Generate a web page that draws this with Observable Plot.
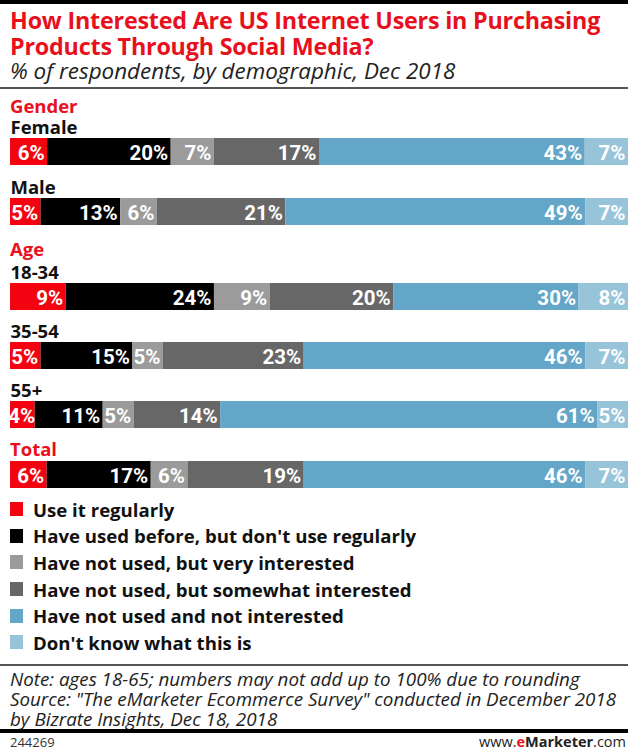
<!DOCTYPE html>
<html>
<head>
<meta charset="utf-8">
<script src="https://cdn.jsdelivr.net/npm/d3@7"></script>
<script src="https://cdn.jsdelivr.net/npm/@observablehq/plot@0.6"></script>
<style>
  html, body { margin: 0; padding: 0; background: #fff; }
  body { width: 628px; height: 751px; position: relative; overflow: hidden; font-family: "Open Sans", sans-serif; }
  .abs { position: absolute; left: 0; }
  .rule-top { top: 0; width: 628px; height: 4px; background: #000; }
  .title { top: 8px; left: 10px; color: #e8101d; font-weight: bold; font-size: 23.3px; line-height: 25.5px; letter-spacing: -0.2px; white-space: nowrap; }
  .subtitle { top: 59px; left: 10px; color: #222; font-style: italic; font-size: 22.4px; line-height: 24px; white-space: nowrap; }
  .rule-thin { top: 87px; width: 628px; height: 1.5px; background: #555; }
  .group { left: 10px; color: #e8101d; font-weight: bold; font-size: 18.5px; line-height: 20px; }
  .legend { top: 496px; left: 10px; }
  .legend div { height: 26.6px; display: flex; align-items: center; font-weight: bold; font-size: 18.6px; color: #111; white-space: nowrap; }
  .legend span.sw { width: 13px; height: 14px; margin-right: 10px; display: inline-block; }
  .rule-note { top: 664px; width: 628px; height: 1.5px; background: #555; }
  .note { top: 669px; left: 10px; font-style: italic; font-size: 18.8px; line-height: 20px; color: #222; white-space: nowrap; }
  .rule-bottom { top: 729px; width: 628px; height: 3.5px; background: #000; }
  .footid { top: 735px; left: 10px; font-size: 13px; line-height: 14px; color: #333; }
  .footurl { top: 735px; right: 2px; left: auto; font-size: 14.5px; line-height: 14px; color: #222; }
  .footurl b.e { color: #e8101d; }
</style>
</head>
<body>
<div class="abs rule-top"></div>
<div class="abs title">How Interested Are US Internet Users in Purchasing<br>Products Through Social Media?</div>
<div class="abs subtitle">% of respondents, by demographic, Dec 2018</div>
<div class="abs rule-thin"></div>

<div class="abs group" style="top:96px">Gender</div>
<div class="abs" id="plot-gender" style="top:118px"></div>
<div class="abs group" style="top:239px">Age</div>
<div class="abs" id="plot-age" style="top:260px"></div>
<div class="abs group" style="top:439px">Total</div>
<div class="abs" id="plot-total" style="top:461px"></div>

<div class="abs legend" id="legend"></div>

<div class="abs rule-note"></div>
<div class="abs note">Note: ages 18-65; numbers may not add up to 100% due to rounding<br>Source: "The eMarketer Ecommerce Survey" conducted in December 2018<br>by Bizrate Insights, Dec 18, 2018</div>
<div class="abs rule-bottom"></div>
<div class="abs footid">244269</div>
<div class="abs footurl">www.<b class="e">e</b><b>Marketer</b>.com</div>

<script>
// ---- data ----
const categories = [
  "Use it regularly",
  "Have used before, but don't use regularly",
  "Have not used, but very interested",
  "Have not used, but somewhat interested",
  "Have not used and not interested",
  "Don't know what this is"
];
const colors = ["#f2030f", "#000000", "#9b9b9b", "#676767", "#64a6c8", "#98c4d9"];
const rows   = ["Female", "Male", "18-34", "35-54", "55+", "Total"];
const groups = ["Gender", "Gender", "Age", "Age", "Age", "Total"];
const useRegularly       = [6, 5, 9, 5, 4, 6];
const usedBefore         = [20, 13, 24, 15, 11, 17];
const veryInterested     = [7, 6, 9, 5, 5, 6];
const somewhatInterested = [17, 21, 20, 23, 14, 19];
const notInterested      = [43, 49, 30, 46, 61, 46];
const dontKnow           = [7, 7, 8, 7, 5, 7];

const series = [useRegularly, usedBefore, veryInterested, somewhatInterested, notInterested, dontKnow];
const table = [];
rows.forEach((row, i) => {
  series.forEach((vals, j) => {
    table.push({row, group: groups[i], category: categories[j], value: vals[i]});
  });
});

const labelFont = "'Liberation Sans Narrow', 'Arial Narrow', Roboto, sans-serif";

function groupPlot(group, marginTop, step, showLabels) {
  const groupRows = rows.filter((r, i) => groups[i] === group);
  const data = table.filter(d => d.group === group);
  const n = groupRows.length;
  const bw = 27;
  const pInner = (step - bw) / step;
  const inner = n === 1 ? bw : step * (n - pInner);
  const labelOpts = (test, dx) => Plot.stackX2({
    x: "value", y: "row", z: "category", offset: "normalize",
    text: d => test(d.value) ? d.value + "%" : null,
    textAnchor: "end", dx, dy: 1,
    fill: "white", fontWeight: "bold", fontSize: 20.5, fontFamily: labelFont
  });
  const marks = [
    Plot.barX(data, Plot.stackX({x: "value", y: "row", fill: "category", offset: "normalize"})),
    Plot.text(data, labelOpts(v => v >= 5, -3)),
    Plot.text(data, labelOpts(v => v < 5, 0))
  ];
  if (showLabels) {
    marks.push(Plot.text(groupRows, {
      y: d => d, text: d => d, frameAnchor: "left", textAnchor: "start",
      dy: -24, fill: "#111", fontWeight: "bold", fontSize: 18.5, fontFamily: "Open Sans"
    }));
  }
  return Plot.plot({
    width: 628,
    height: marginTop + inner,
    marginLeft: 10, marginRight: 0, marginTop, marginBottom: 0,
    x: {domain: [0, 1], axis: null},
    y: {domain: groupRows, axis: null, paddingInner: n === 1 ? 0 : pInner, paddingOuter: 0},
    color: {domain: categories, range: colors},
    style: {background: "transparent", overflow: "visible"},
    marks
  });
}

document.getElementById("plot-gender").appendChild(groupPlot("Gender", 20, 60, true));
document.getElementById("plot-age").appendChild(groupPlot("Age", 23, 59, true));
document.getElementById("plot-total").appendChild(groupPlot("Total", 0, 60, false));

const legend = document.getElementById("legend");
categories.forEach((c, i) => {
  const row = document.createElement("div");
  const sw = document.createElement("span");
  sw.className = "sw";
  sw.style.background = colors[i];
  row.appendChild(sw);
  row.appendChild(document.createTextNode(c));
  legend.appendChild(row);
});
</script>
</body>
</html>
